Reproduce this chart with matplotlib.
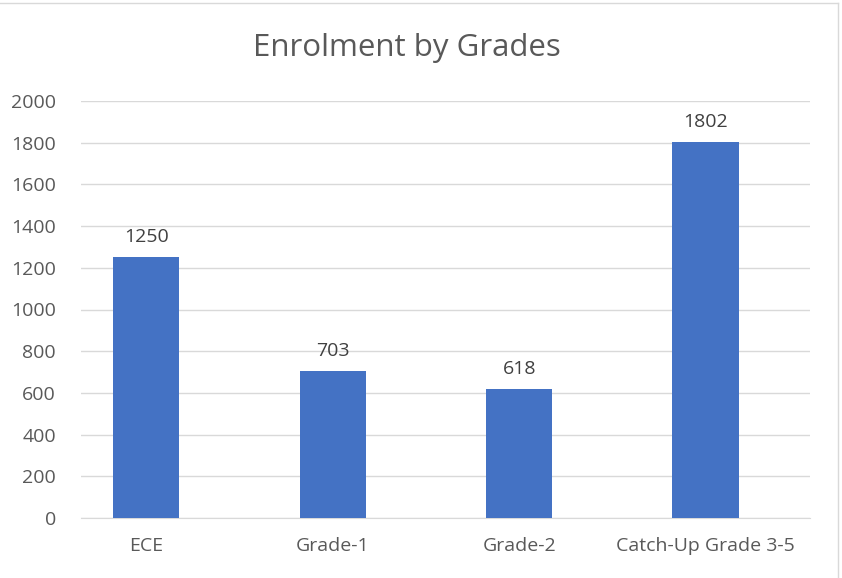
import matplotlib
matplotlib.use("Agg")
import matplotlib.pyplot as plt

categories = ["ECE", "Grade-1", "Grade-2", "Catch-Up Grade 3-5"]
values = [1250, 703, 618, 1802]
yticks = [0, 200, 400, 600, 800, 1000, 1200, 1400, 1600, 1800, 2000]

plt.rcParams['font.family'] = ['Open Sans', 'DejaVu Sans']

fig = plt.figure(figsize=(8.42, 5.78), dpi=100)
ax = fig.add_axes([81/842, 1-518/578, (810-81)/842, (518-101)/578])

x = list(range(len(categories)))
ax.bar(x, values, width=0.355, color="#4472C4", zorder=3)
for xi, v in zip(x, values):
    ax.annotate(str(v), (xi, v), xytext=(0, 8), textcoords="offset points",
                ha="center", va="bottom", fontsize=14, color="#404040")

ax.set_xlim(-0.35, 3.56)
ax.set_ylim(0, 2000)
ax.set_yticks(yticks)
ax.set_xticks(x)
ax.set_xticklabels(categories)
ax.grid(axis="y", color="#D9D9D9", linewidth=1, zorder=0)
for s in ["top", "right", "left"]:
    ax.spines[s].set_visible(False)
ax.spines["bottom"].set_color("#D9D9D9")
ax.tick_params(axis="both", length=0, labelsize=14, colors="#595959")
ax.tick_params(axis="y", pad=18)
ax.tick_params(axis="x", pad=14)

fig.text(407/842, 1-48/578, "Enrolment by Grades", ha="center", va="center",
         fontsize=22.5, color="#595959")

# outer chart frame
fig.add_artist(plt.Line2D([0, 838/842], [1-3/578, 1-3/578], color="#D9D9D9", lw=1))
fig.add_artist(plt.Line2D([838/842, 838/842], [0, 1-3/578], color="#D9D9D9", lw=1))

fig.savefig("out.png", dpi=100)
